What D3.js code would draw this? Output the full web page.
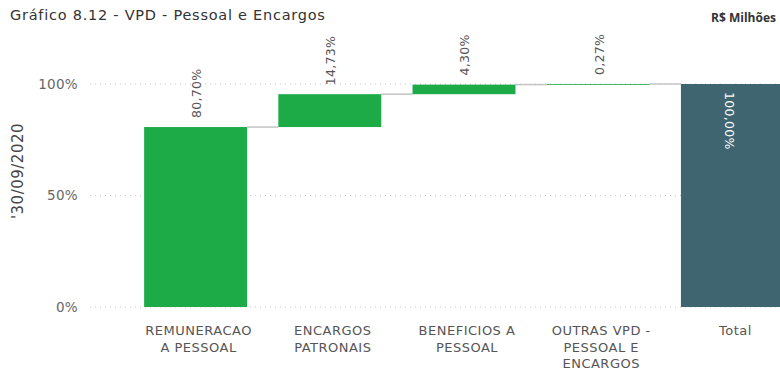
<!DOCTYPE html>
<html>
<head>
<meta charset="utf-8">
<script src="https://cdn.jsdelivr.net/npm/d3@7"></script>
<style>
  html, body { margin: 0; padding: 0; background: #fff; overflow: hidden; }
  svg { display: block; }
</style>
</head>
<body>
<svg id="chart" width="780" height="370"></svg>
<script>
// Waterfall: VPD - Pessoal e Encargos, share of total (%)
const categories = ["REMUNERACAO A PESSOAL", "ENCARGOS PATRONAIS", "BENEFICIOS A PESSOAL", "OUTRAS VPD - PESSOAL E ENCARGOS", "Total"];
const labelLines = [["REMUNERACAO", "A PESSOAL"], ["ENCARGOS", "PATRONAIS"], ["BENEFICIOS A", "PESSOAL"], ["OUTRAS VPD -", "PESSOAL E", "ENCARGOS"], ["Total"]];
const values = [80.70, 14.73, 4.30, 0.27];
const totalValue = 100.00;
const yTicks = [0, 50, 100];

const svg = d3.select("#chart");
const fmt = v => d3.format(".2f")(v).replace(".", ",") + "%";
const FONT = "DejaVu Sans, Verdana, sans-serif";

const x = d3.scaleBand().domain(categories).range([128.5, 799.5]).paddingInner(0.233).paddingOuter(0.1165);
const y = d3.scaleLinear().domain([0, 100]).range([307, 84]);

// Build the waterfall steps
let run = 0;
const steps = values.map((v, i) => {
  const s = { cat: categories[i], start: run, end: run + v, value: v, total: false };
  run += v;
  return s;
});
steps.push({ cat: categories[4], start: 0, end: totalValue, value: totalValue, total: true });

// Title
svg.append("text").attr("x", 10).attr("y", 20)
  .attr("font-family", FONT).attr("font-size", 14.5).attr("letter-spacing", 0.75)
  .attr("fill", "#333").text("Gráfico 8.12 - VPD - Pessoal e Encargos");
svg.append("text").attr("x", 776).attr("y", 22).attr("text-anchor", "end")
  .attr("font-family", "Open Sans, sans-serif").attr("font-size", 12).attr("font-weight", "bold")
  .attr("fill", "#333").text("R$ Milhões");

// Gridlines + tick labels
const yAxis = svg.append("g");
yTicks.forEach(t => {
  yAxis.append("line").attr("x1", 90).attr("x2", 780).attr("y1", y(t)).attr("y2", y(t))
    .attr("stroke", "#c8c8c8").attr("stroke-width", 1).attr("stroke-dasharray", "1,4");
  yAxis.append("text").attr("x", 78).attr("y", y(t)).attr("dy", "0.35em").attr("text-anchor", "end")
    .attr("font-family", FONT).attr("font-size", 13.5).attr("letter-spacing", 0.3)
    .attr("fill", "#666").text(t + "%");
});

// Y axis title
svg.append("text").attr("transform", `translate(23,171) rotate(-90)`).attr("text-anchor", "middle")
  .attr("font-family", FONT).attr("font-size", 15).attr("letter-spacing", 0.5)
  .attr("fill", "#444").text("'30/09/2020");

// Connectors
for (let i = 0; i < steps.length - 1; i++) {
  const a = steps[i], b = steps[i + 1];
  svg.append("line")
    .attr("x1", x(a.cat) + x.bandwidth()).attr("x2", x(b.cat))
    .attr("y1", y(a.end)).attr("y2", y(a.end))
    .attr("stroke", "#c4c4c4").attr("stroke-width", 1.5);
}

// Bars
svg.append("g").selectAll("rect").data(steps).join("rect")
  .attr("x", d => x(d.cat)).attr("width", x.bandwidth())
  .attr("y", d => y(Math.max(d.start, d.end)))
  .attr("height", d => Math.max(0.8, Math.abs(y(d.start) - y(d.end))))
  .attr("fill", d => d.total ? "#3f6570" : "#1dab47");

// Value labels
steps.forEach(d => {
  const cx = x(d.cat) + x.bandwidth() / 2 + 1;
  if (d.total) {
    svg.append("text").attr("transform", `translate(${cx - 4},${y(d.end) + 8}) rotate(90)`)
      .attr("text-anchor", "start").attr("dy", "0.35em")
      .attr("font-family", FONT).attr("font-size", 12.5).attr("letter-spacing", 0.3)
      .attr("fill", "#fff").text(fmt(d.value));
  } else {
    svg.append("text").attr("transform", `translate(${cx},${y(d.end) - 9}) rotate(-90)`)
      .attr("text-anchor", "start").attr("dy", "0.35em")
      .attr("font-family", FONT).attr("font-size", 12.5).attr("letter-spacing", 0.3)
      .attr("fill", "#555").text(fmt(d.value));
  }
});

// Category labels
categories.forEach((c, i) => {
  const t = svg.append("text").attr("text-anchor", "middle")
    .attr("font-family", FONT).attr("font-size", 13).attr("letter-spacing", 0.5)
    .attr("fill", "#555");
  labelLines[i].forEach((line, j) => {
    t.append("tspan").attr("x", x(c) + x.bandwidth() / 2 + 3).attr("y", 335 + j * 16.5).text(line);
  });
});

// Source note
svg.append("text").attr("x", 18).attr("y", 379)
  .attr("font-family", FONT).attr("font-size", 11)
  .attr("fill", "#555").text("Fonte: SIAFI 2020/2019");
</script>
</body>
</html>
